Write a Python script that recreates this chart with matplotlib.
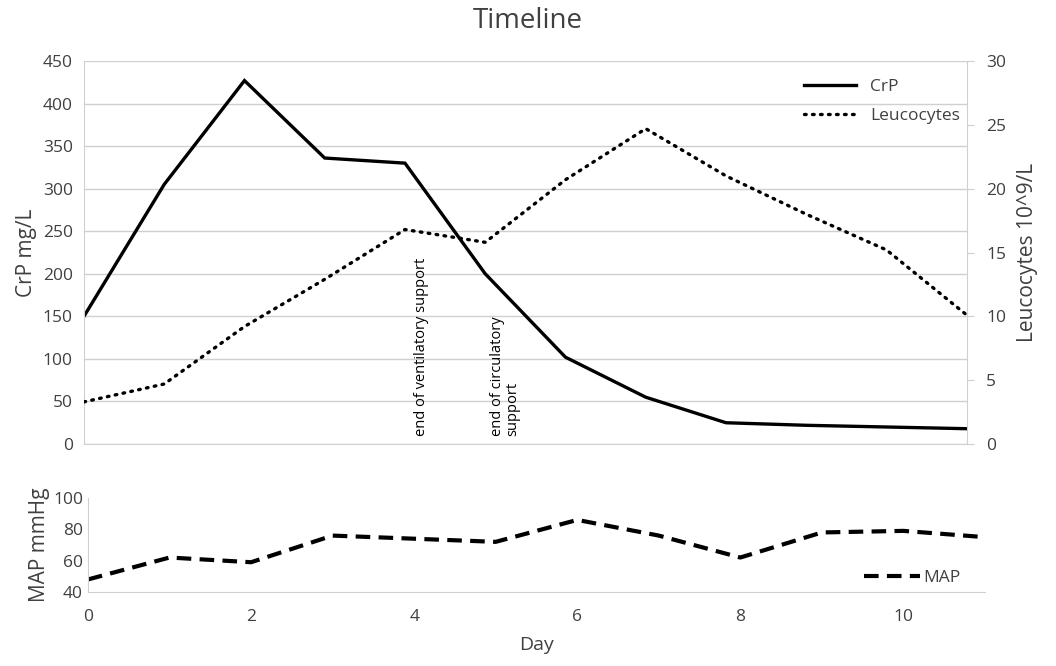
import numpy as np
import matplotlib.pyplot as plt

plt.rcParams['font.family'] = ['Open Sans', 'DejaVu Sans']

days = np.arange(0, 12)
crp = [150, 305, 427, 336, 330, 200, 102, 55, 25, 22, 20, 18]
leuco = [3.3, 4.7, 9.2, 12.9, 16.8, 15.8, 20.7, 24.7, 21.0, 18.0, 15.2, 10.1]
mapp = [48, 62, 59, 76, 74, 72, 86, 76, 62, 78, 79, 75]

grey = '#404040'
gridc = '#d0d0d0'

fig = plt.figure(figsize=(10.56, 6.66), dpi=100)

# top panel: CrP + Leucocytes
ax = fig.add_axes([0.0795, 0.3333, 0.836, 0.5751])
ax.plot(days, crp, color='black', lw=2.4, label='CrP', solid_joinstyle='miter')
ax.set_xlim(0, 11)
ax.set_ylim(0, 450)
ax.set_yticks(np.arange(0, 451, 50))
ax.set_xticks([])
ax.yaxis.grid(True, color=gridc, lw=1)
ax.set_axisbelow(True)
for s in ['top', 'right']:
    ax.spines[s].set_visible(False)
ax.spines['left'].set_color(gridc)
ax.spines['bottom'].set_color(gridc)
ax.tick_params(axis='y', length=0, labelsize=12.5, labelcolor=grey, pad=8)
ax.set_ylabel('CrP mg/L', fontsize=15, color=grey, labelpad=4)

ax2 = ax.twinx()
ax2.plot(days, leuco, color='black', lw=2.4, linestyle=(0, (0.5, 1.9)),
         dash_capstyle='round', label='Leucocytes')
ax2.set_ylim(0, 30)
ax2.set_yticks(np.arange(0, 31, 5))
for s in ['top', 'left', 'bottom']:
    ax2.spines[s].set_visible(False)
ax2.spines['right'].set_color(gridc)
ax2.tick_params(axis='y', length=5, color=gridc, labelsize=12.5, labelcolor=grey, pad=9)
ax2.set_ylabel('Leucocytes 10^9/L', fontsize=15, color=grey, labelpad=8)

h1, l1 = ax.get_legend_handles_labels()
h2, l2 = ax2.get_legend_handles_labels()
ax2.legend(h1 + h2, l1 + l2, loc='upper right', bbox_to_anchor=(1.01, 0.995),
           frameon=False, fontsize=12.5, handlelength=3.0, labelspacing=0.75,
           labelcolor=grey)

ax.text(4.2, 10, 'end of ventilatory support', rotation=90, fontsize=10.5,
        ha='center', va='bottom')
ax.text(5.25, 10, 'end of circulatory\nsupport', rotation=90, fontsize=10.5,
        ha='center', va='bottom', multialignment='left', linespacing=1.0)

fig.suptitle('Timeline', y=0.99, fontsize=20, color=grey)

# bottom panel: MAP
bx = fig.add_axes([0.0833, 0.1111, 0.8494, 0.1412])
bx.plot(days, mapp, color='black', lw=3, linestyle=(0, (3.5, 2)), label='MAP')
bx.set_xlim(0, 11)
bx.set_ylim(40, 100)
bx.set_yticks([40, 60, 80, 100])
bx.set_xticks(np.arange(0, 11, 2))
for s in ['top', 'right']:
    bx.spines[s].set_visible(False)
bx.spines['left'].set_color(gridc)
bx.spines['bottom'].set_color(gridc)
bx.tick_params(length=0, labelsize=12.5, labelcolor=grey)
bx.tick_params(axis='x', pad=12)
bx.set_ylabel('MAP mmHg', fontsize=15, color=grey, labelpad=2)
bx.set_xlabel('Day', fontsize=14, color=grey, labelpad=8)
bx.legend(loc='lower right', bbox_to_anchor=(0.99, -0.1), frameon=False,
          fontsize=12.5, handlelength=3.2, handletextpad=0.2, labelcolor=grey)

fig.savefig('out.png', dpi=100)
